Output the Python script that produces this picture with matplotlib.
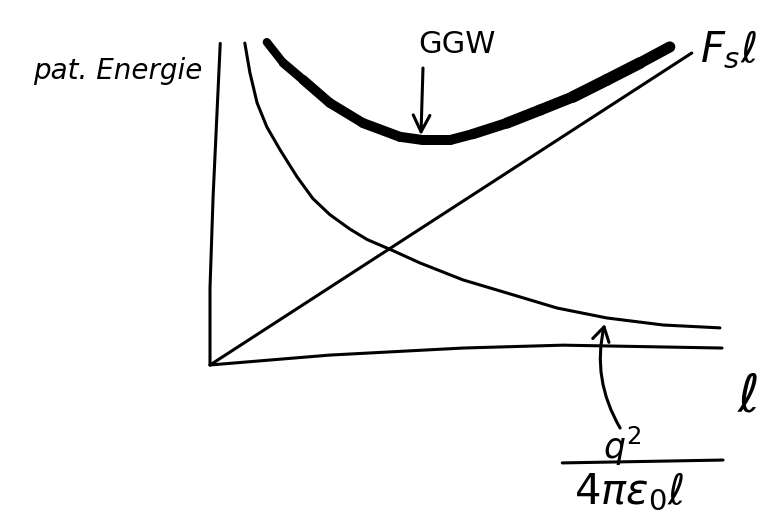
import numpy as np
import matplotlib
matplotlib.use("Agg")
import matplotlib.pyplot as plt
from matplotlib.collections import LineCollection

# Sketch of potential energy versus separation l (arbitrary units)
l_coulomb = [0.68, 0.78, 0.92, 1.11, 1.37, 1.70, 2.01, 2.34, 2.73, 3.07, 3.55, 4.10,
             4.94, 5.80, 6.78, 7.75, 8.85, 9.96]
e_coulomb = [10.06, 9.13, 8.19, 7.44, 6.72, 5.88, 5.20, 4.70, 4.25, 3.92, 3.59, 3.19,
             2.66, 2.25, 1.78, 1.47, 1.25, 1.16]

l_total = [1.11, 1.43, 1.82, 2.34, 2.99, 3.71, 4.16, 4.69, 5.14, 5.80, 6.45, 7.09,
           7.75, 8.40, 8.98]
e_total = [10.09, 9.44, 8.91, 8.19, 7.56, 7.13, 7.03, 7.03, 7.22, 7.56, 7.97, 8.38,
           8.91, 9.44, 9.94]

l_linear = [0.0, 9.41]
e_linear = [0.0, 9.75]

# hand-drawn axes
l_axis_h = [0.0, 2.34, 4.94, 6.89, 10.0]
e_axis_h = [0.0, 0.31, 0.53, 0.62, 0.53]
l_axis_v = [0.0, 0.0, 0.06, 0.2]
e_axis_v = [0.0, 2.4, 5.25, 10.05]

fig = plt.figure(figsize=(7.79, 5.29), dpi=100)
ax = fig.add_axes([0, 0, 1, 1])
ax.set_xlim(-210 / 51.2, (779 - 210) / 51.2)
ax.set_ylim(-(529 - 365) / 32.0, 365 / 32.0)
ax.axis("off")

thin = dict(color="black", lw=2.2, solid_capstyle="round", solid_joinstyle="round")
ax.plot(l_axis_h, e_axis_h, **thin)
ax.plot(l_axis_v, e_axis_v, **thin)
ax.plot(l_linear, e_linear, **thin)
ax.plot(l_coulomb, e_coulomb, **thin)

# thick total-energy curve, slightly tapered at the left end
pts = np.column_stack([l_total, e_total])
segs = np.stack([pts[:-1], pts[1:]], axis=1)
widths = [6.0, 6.5, 7.0, 7.0, 7.2, 7.2, 7.2, 7.2, 7.5, 8.0, 8.0, 8.5, 8.5, 8.0]
ax.add_collection(LineCollection(segs, linewidths=widths, colors="black",
                                 capstyle="round", joinstyle="round"))

# labels
ax.text(-1.80, 9.20, "pat. Energie", fontsize=20, ha="center", va="center", style="italic")
ax.text(4.82, 10.03, "GGW", fontsize=22, ha="center", va="center")
ax.text(9.57, 9.84, r"$F_s\ell$", fontsize=30, ha="left", va="center")
ax.text(10.51, -1.03, r"$\ell$", fontsize=38, ha="center", va="center")

# fraction label for the Coulomb term
ax.text(8.05, -2.55, r"$q^2$", fontsize=25, ha="center", va="center")
ax.plot([6.88, 10.02], [-3.06, -2.97], **thin)
ax.text(8.18, -3.98, r"$4\pi\varepsilon_0\ell$", fontsize=30, ha="center", va="center")

# arrows
ax.annotate("", xy=(4.12, 7.18), xytext=(4.16, 9.28),
            arrowprops=dict(arrowstyle="->,head_length=0.6,head_width=0.3", lw=2.2,
                            color="black", mutation_scale=20, shrinkA=0, shrinkB=0))
ax.annotate("", xy=(7.71, 1.28), xytext=(8.01, -1.97),
            arrowprops=dict(arrowstyle="->,head_length=0.5,head_width=0.3", lw=2.2,
                            color="black", mutation_scale=20, shrinkA=0, shrinkB=0,
                            connectionstyle="arc3,rad=-0.2"))

fig.savefig("out.png", dpi=100)
